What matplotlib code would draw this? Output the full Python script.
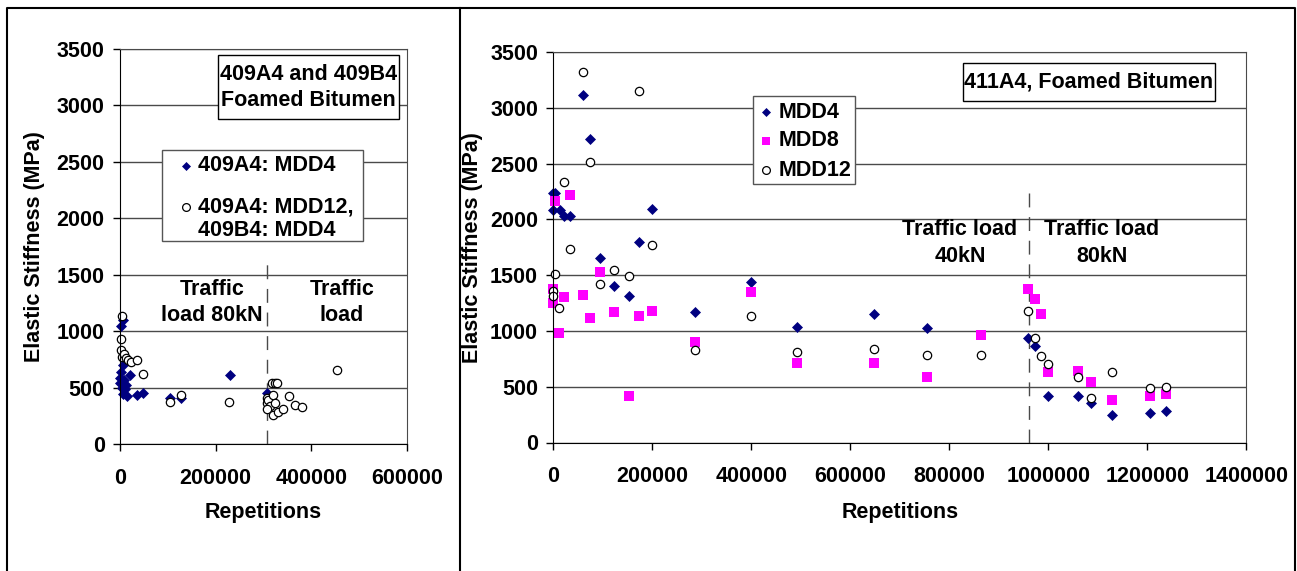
#!/usr/bin/env python3
"""Elastic stiffness vs repetitions for the foamed bitumen sections."""

import matplotlib
matplotlib.use("Agg")
import matplotlib.pyplot as plt
from matplotlib.patches import Rectangle

W, H = 1297, 571

# --- 409A4 / 409B4 ---------------------------------------------------------
a4_mdd4_x = [6900, 1400, 5600, 1400, 0, 8400, 0, 12600, 3500, 7000, 15300,
             20900, 36300, 47400, 104600, 127000, 229500, 307000, 3500, 10500]
a4_mdd4_y = [1103, 1044, 697, 638, 589, 565, 538, 521, 500, 447, 421,
             609, 438, 456, 406, 406, 610, 456, 530, 490]
a4_mdd12_x = [3500, 1400, 1400, 5000, 8400, 12600, 17400, 22300, 34900, 47400,
              104700, 127700, 228800, 307000, 307000, 310500, 314000, 307000,
              321000, 324400, 319500, 331400, 340500, 354400, 366300, 380200,
              317500, 324400, 329300, 454900]
a4_mdd12_y = [1135, 932, 830, 770, 794, 762, 746, 730, 740, 622,
              372, 431, 375, 410, 360, 392, 334, 312,
              430, 360, 257, 282, 312, 425, 350, 332,
              537, 537, 537, 655]
left_xticks = [0, 200000, 400000, 600000]
left_xlabels = ["0", "200000", "400000", "600000"]
left_switch = 307000   # change of traffic load
left_switch_top = 1600

# --- 411A4 -----------------------------------------------------------------
mdd4_x = [0, 4000, 0, 14000, 22000, 34000, 60000, 75000, 95000, 122000,
          153000, 173000, 199000, 286000, 399000, 493000, 648000, 754000,
          958000, 973000, 1000000, 1060000, 1087000, 1128000, 1206000, 1238000]
mdd4_y = [2236, 2236, 2084, 2086, 2026, 2026, 3116, 2721, 1655, 1401,
          1314, 1799, 2095, 1173, 1437, 1039, 1153, 1024,
          934, 865, 419, 419, 356, 246, 267, 282]
mdd8_x = [4000, 34000, 95000, 0, 0, 22000, 60000, 12000, 75000, 122000,
          173000, 199000, 153000, 286000, 399000, 493000, 648000, 754000,
          864000, 959000, 973000, 986000, 1000000, 1060000, 1087000, 1128000,
          1206000, 1238000]
mdd8_y = [2167, 2215, 1532, 1374, 1249, 1308, 1323, 979, 1114, 1168,
          1138, 1183, 417, 899, 1347, 710, 710, 587,
          961, 1377, 1285, 1150, 632, 638, 542, 383,
          414, 434]
mdd12_x = [60000, 173000, 75000, 22000, 34000, 199000, 3000, 122000, 153000,
           95000, 0, 0, 12000, 286000, 399000, 493000, 648000, 754000,
           864000, 959000, 973000, 986000, 1000000, 1060000, 1087000, 1128000,
           1206000, 1238000]
mdd12_y = [3325, 3146, 2511, 2338, 1736, 1769, 1506, 1545, 1488,
           1422, 1359, 1314, 1204, 829, 1135, 814, 838, 787,
           786, 1180, 937, 776, 707, 590, 401, 629, 488, 500]
right_xticks = list(range(0, 1400001, 200000))
right_xlabels = [str(t) for t in right_xticks]
right_switch = 960000
right_switch_top = 2250

yticks = list(range(0, 3501, 500))

_diamond = dict(marker="D", ms=4.9, mfc="#000080", mec="#000080", mew=0.5)
_square = dict(marker="s", ms=6.8, mfc="#ff00ff", mec="#ff00ff", mew=0)
_circle = dict(marker="o", ms=6.0, mfc="white", mec="black", mew=0.9)
_key_diamond = dict(_diamond, ms=4.2)
_key_square = dict(_square, ms=6.4)
_key_circle = dict(_circle, ms=5.6)
GRID = "#4a4a4a"

plt.rcParams["font.family"] = ["Liberation Sans", "DejaVu Sans"]
plt.rcParams["font.weight"] = "bold"
plt.rcParams["axes.labelweight"] = "bold"
plt.rcParams["font.size"] = 15


def px_axes(fig, x0, y0, x1, y1):
    return fig.add_axes([x0 / W, 1 - y1 / H, (x1 - x0) / W, (y1 - y0) / H])


def style(ax, xmax, xticks, xlabels, ylab_x, xlab_y):
    ax.set_xlim(0, xmax)
    ax.set_ylim(0, 3500)
    ax.set_xticks(xticks, labels=xlabels)
    ax.set_yticks(yticks)
    ax.tick_params(direction="out", length=5, width=1, labelsize=15.5)
    ax.tick_params(axis="x", pad=12)
    ax.tick_params(axis="y", pad=6)
    ax.yaxis.grid(True, color=GRID, lw=1)
    ax.set_axisbelow(True)
    for s in ("top", "right"):
        ax.spines[s].set_color(GRID)
    for s in ("left", "bottom"):
        ax.spines[s].set_color("black")
    ax.set_ylabel("Elastic Stiffness (MPa)", va="center", fontsize=15.5)
    ax.yaxis.set_label_coords(ylab_x, 0.5)
    ax.set_xlabel("Repetitions", va="center", fontsize=15.5)
    ax.xaxis.set_label_coords(0.5, xlab_y)


def main():
    fig = plt.figure(figsize=(W / 100, H / 100), dpi=100)

    # Left chart
    ax1 = px_axes(fig, 120, 49, 406.7, 444)
    style(ax1, 600000, left_xticks, left_xlabels, -0.2965, -0.174)
    ax1.plot([left_switch, left_switch], [0, left_switch_top], color=GRID,
             lw=1, dashes=(10, 7))
    ax1.plot(a4_mdd4_x, a4_mdd4_y, ls="none", clip_on=False, **_diamond)
    ax1.plot(a4_mdd12_x, a4_mdd12_y, ls="none", clip_on=False, **_circle)
    ax1.text(192000, 1254, "Traffic\nload 80kN", ha="center", va="center",
             linespacing=1.3, fontsize=15.5)
    ax1.text(464000, 1254, "Traffic\nload", ha="center", va="center",
             linespacing=1.3, fontsize=15.5)

    # Right chart
    ax2 = px_axes(fig, 553.3, 52, 1246.3, 442.5)
    style(ax2, 1400000, right_xticks, right_xlabels, -0.1167, -0.1785)
    ax2.plot([right_switch, right_switch], [0, right_switch_top], color=GRID,
             lw=1, dashes=(10, 7))
    ax2.plot(mdd4_x, mdd4_y, ls="none", clip_on=False, **_diamond)
    ax2.plot(mdd8_x, mdd8_y, ls="none", clip_on=False, **_square)
    ax2.plot(mdd12_x, mdd12_y, ls="none", clip_on=False, **_circle)
    ax2.text(821500, 1790, "Traffic load\n40kN", ha="center", va="center",
             linespacing=1.4, fontsize=15.5)
    ax2.text(1108000, 1790, "Traffic load\n80kN", ha="center", va="center",
             linespacing=1.4, fontsize=15.5)

    # Overlay in pixel coordinates: frames, title boxes and keys
    deco = fig.add_axes([0, 0, 1, 1], zorder=5)
    deco.set_xlim(0, W)
    deco.set_ylim(H, 0)
    deco.axis("off")
    deco.plot([7, 7, 1295, 1295], [H + 5, 8, 8, H + 5], color="black", lw=1.5)
    deco.plot([460, 460], [8, H + 5], color="black", lw=1.5)

    def box(x0, y0, x1, y1, ec):
        deco.add_patch(Rectangle((x0, y0), x1 - x0, y1 - y0, fc="white",
                                 ec=ec, lw=1))

    box(217.7, 55.4, 399.3, 119.4, "black")
    deco.text(308.5, 74.7, "409A4 and 409B4", ha="center", va="center",
              fontsize=15.5)
    deco.text(308.5, 100.9, "Foamed Bitumen", ha="center", va="center",
              fontsize=15.5)

    box(962.7, 62.7, 1215, 101, "black")
    deco.text(1088.8, 82, "411A4, Foamed Bitumen", ha="center", va="center",
              fontsize=15.5)

    # keys
    box(162.3, 150, 362.7, 241, "#555555")
    deco.plot([185.7], [165.7], ls="none", **_key_diamond)
    deco.plot([185.7], [206.5], ls="none", **_key_circle)
    deco.text(197.7, 165.7, "409A4: MDD4", va="center", fontsize=15.5)
    deco.text(197.7, 206.5, "409A4: MDD12,", va="center", fontsize=15.5)
    deco.text(197.7, 230.5, "409B4: MDD4", va="center", fontsize=15.5)

    box(752.7, 95.7, 855, 184, "#555555")
    for y, st, name in [(112.3, _key_diamond, "MDD4"),
                        (141, _key_square, "MDD8"),
                        (170, _key_circle, "MDD12")]:
        deco.plot([766], [y], ls="none", **st)
        deco.text(778.3, y, name, va="center", fontsize=15.5)

    fig.savefig("out.png", dpi=100)


if __name__ == "__main__":
    main()
